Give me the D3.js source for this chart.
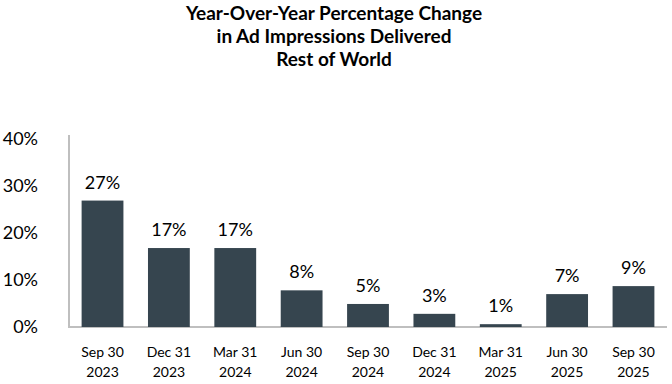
<!DOCTYPE html>
<html><head><meta charset="utf-8">
<script src="https://cdn.jsdelivr.net/npm/d3@7"></script>
<style>body{margin:0;background:#fff}svg{display:block}</style>
</head><body>
<svg id="c" width="672" height="384"></svg>
<script>
const categories = ["Sep 30|2023","Dec 31|2023","Mar 31|2024","Jun 30|2024","Sep 30|2024","Dec 31|2024","Mar 31|2025","Jun 30|2025","Sep 30|2025"];
const values = [26.9, 16.8, 16.8, 7.8, 4.9, 2.8, 0.6, 7.0, 8.7];
const labels = ["27%","17%","17%","8%","5%","3%","1%","7%","9%"];
const yTicks = [0, 10, 20, 30, 40];
const titleLines = ["Year-Over-Year Percentage Change","in Ad Impressions Delivered","Rest of World"];

const svg = d3.select("#c");
const font = "Lato, 'Open Sans', sans-serif";
const x = d3.scaleBand().domain(categories).range([69, 667]).paddingInner(0.37).paddingOuter(0.19);
const y = d3.scaleLinear().domain([0, 40]).range([327, 139]);

svg.append("g").selectAll("text").data(titleLines).join("text")
  .attr("x", 334).attr("y", (d,i)=>20 + i*23)
  .attr("text-anchor","middle").attr("font-family",font).attr("font-weight","bold")
  .attr("font-size",19).attr("fill","#000").text(d=>d);

// axes lines
svg.append("line").attr("x1",69).attr("x2",69).attr("y1",135).attr("y2",y(0))
  .attr("stroke","#bfbfbf").attr("stroke-width",2);
svg.append("line").attr("x1",68).attr("x2",667).attr("y1",y(0)).attr("y2",y(0))
  .attr("stroke","#bfbfbf").attr("stroke-width",2);

svg.append("g").selectAll("text").data(yTicks).join("text")
  .attr("x", 38).attr("y", d=>y(d)+6).attr("text-anchor","end")
  .attr("font-family",font).attr("font-size",18).attr("fill","#000").text(d=>d+"%");

svg.append("g").selectAll("rect").data(values).join("rect")
  .attr("x",(d,i)=>x(categories[i])).attr("width",x.bandwidth())
  .attr("y",d=>y(d)).attr("height",d=>y(0)-y(d)).attr("fill","#36454f");

svg.append("g").selectAll("text").data(values).join("text")
  .attr("x",(d,i)=>x(categories[i])+x.bandwidth()/2).attr("y",d=>y(d)-12)
  .attr("text-anchor","middle").attr("font-family",font).attr("font-size",18).attr("fill","#000")
  .text((d,i)=>labels[i]);

const xl = svg.append("g").selectAll("text").data(categories).join("text")
  .attr("x",d=>x(d)+x.bandwidth()/2).attr("y",357)
  .attr("text-anchor","middle").attr("font-family",font).attr("font-size",14).attr("fill","#000");
xl.append("tspan").attr("x",d=>x(d)+x.bandwidth()/2).attr("dy",0).text(d=>d.split("|")[0]);
xl.append("tspan").attr("x",d=>x(d)+x.bandwidth()/2).attr("dy",20).text(d=>d.split("|")[1]);
</script>
</body></html>
